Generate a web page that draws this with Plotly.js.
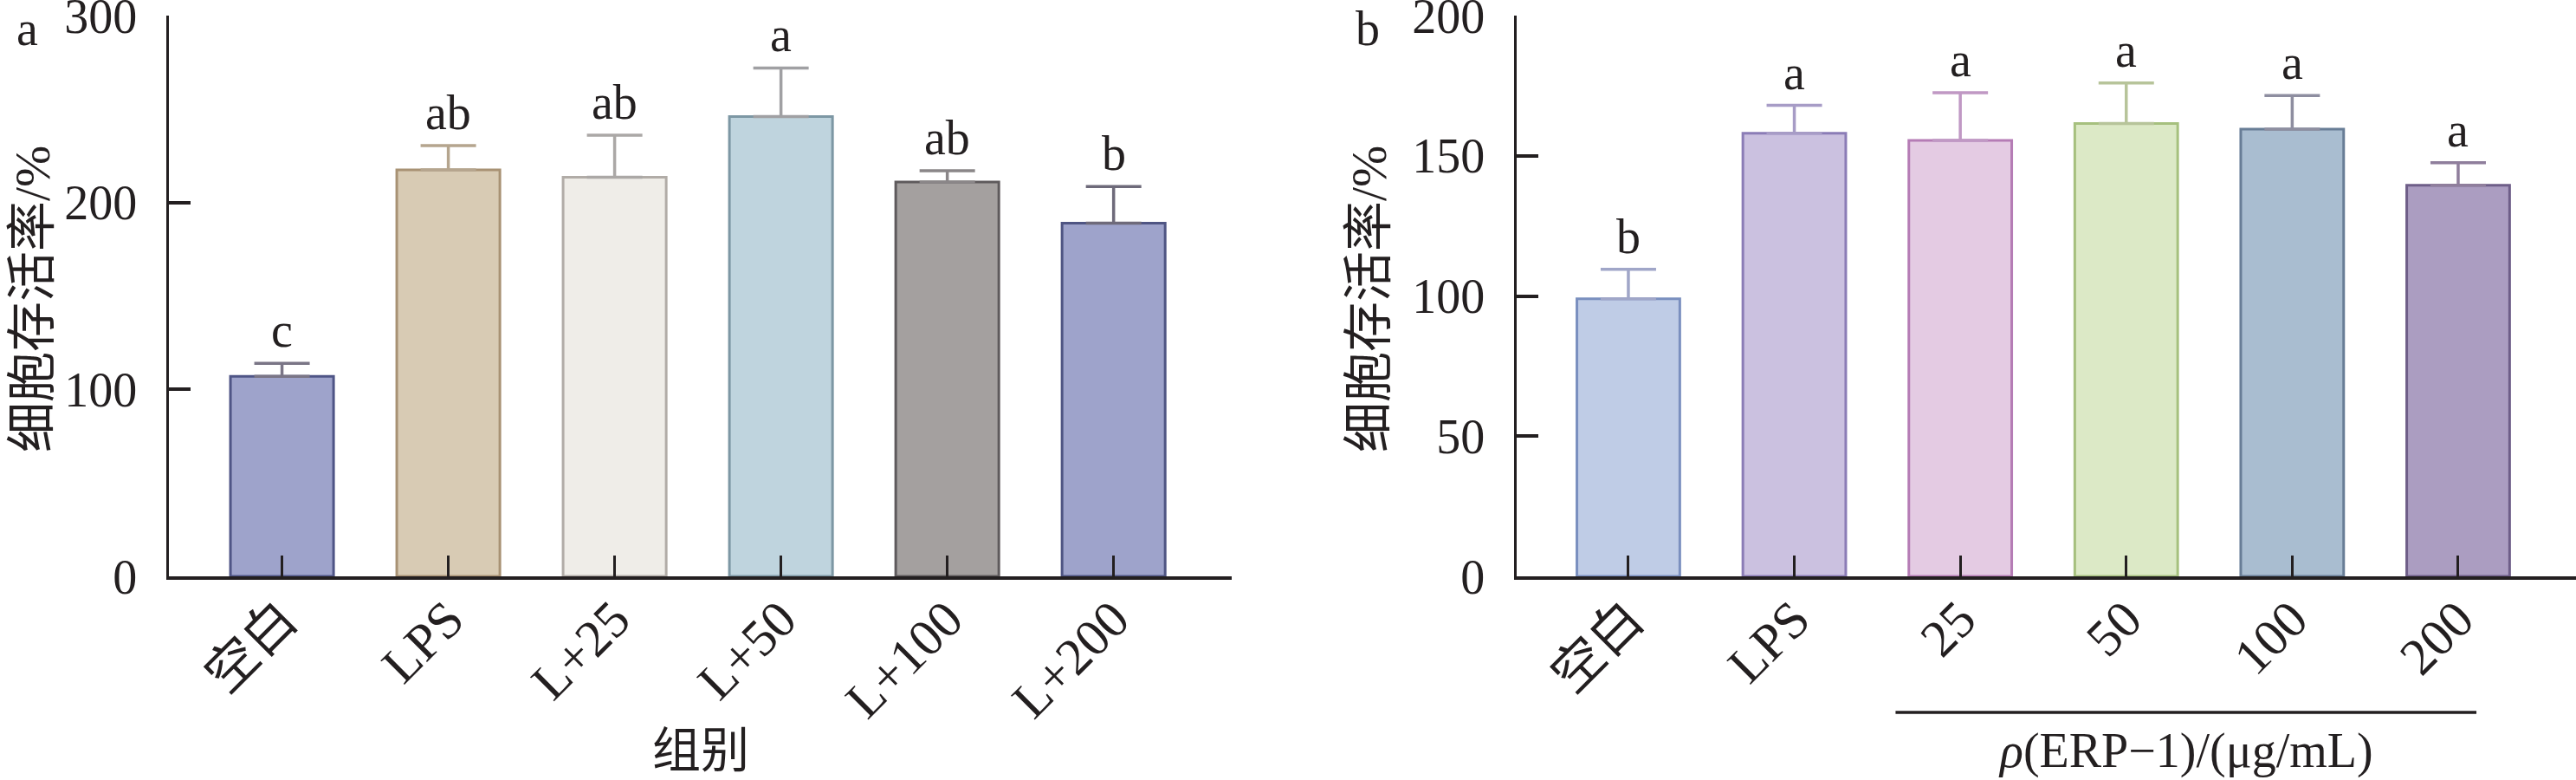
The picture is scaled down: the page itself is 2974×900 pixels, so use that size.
<!DOCTYPE html>
<html>
<head>
<meta charset="utf-8">
<script src="https://cdn.plot.ly/plotly-3.0.1.min.js"></script>
<style>html,body{margin:0;padding:0;background:#fff;}</style>
</head>
<body>
<div id="myDiv" style="width:2974px;height:900px;"></div>
<script>
// panel a: cell viability by group
var groupsA = ['空白', 'LPS', 'L+25', 'L+50', 'L+100', 'L+200'];
var meanA = [107, 217.5, 213.5, 246, 211, 189];
var errA = [7, 13, 22.5, 26, 6, 19.5];
var letterA = ['c', 'ab', 'ab', 'a', 'ab', 'b'];

// panel b: cell viability by ERP-1 concentration
var groupsB = ['空白', 'LPS', '25', '50', '100', '200'];
var meanB = [99, 158, 155.5, 161.5, 159.5, 139.5];
var errB = [10.5, 10, 17, 14.5, 12, 8];
var letterB = ['b', 'a', 'a', 'a', 'a', 'a'];

// bar colours (fill / outline / error bar)
var fillA = ['#9ea3cb', '#d8cbb4', '#efede8', '#bfd4de', '#a4a09f', '#9ea3cb'];
var edgeA = ['#4f5586', '#a89274', '#b1aca7', '#7d97a4', '#5e5a5c', '#4f5583'];
var ebarA = ['#7a7586', '#b5a58e', '#aba8a6', '#a0a0a3', '#8a8688', '#6e6a7a'];
var fillB = ['#bfcce6', '#cbc1e0', '#e4cbe3', '#dce9c6', '#a9bdd0', '#ab9dc1'];
var edgeB = ['#7a8fbf', '#8b7cb6', '#b57cb5', '#a6c07e', '#687d96', '#6e5e88'];
var ebarB = ['#a0a6c8', '#a79cc6', '#c098c4', '#b7c49a', '#8e8ea0', '#8f7e9c'];

var FONT = 'Liberation Serif, "Noto Sans CJK SC", serif';
var INK = '#231f20';

function makeBars(groups, means, errs, fills, edges, ebars, xa, ya) {
    return groups.map(function (g, i) {
        return {
            type: 'bar',
            x: [g],
            y: [means[i]],
            xaxis: xa,
            yaxis: ya,
            width: 0.62,
            marker: {color: fills[i], line: {color: edges[i], width: 3}},
            error_y: {
                type: 'data', symmetric: false,
                array: [errs[i]], arrayminus: [0],
                color: ebars[i], thickness: 3.5, width: 32
            },
            showlegend: false,
            hoverinfo: 'x+y'
        };
    });
}

// significance letters, x given as category index
function makeLetters(means, errs, letters, xa, ya) {
    return letters.map(function (t, i) {
        return {
            x: i, y: means[i] + errs[i], xref: xa, yref: ya,
            text: t, showarrow: false,
            yanchor: 'bottom', yshift: 5,
            font: {family: FONT, size: 56, color: INK}
        };
    });
}

var data = makeBars(groupsA, meanA, errA, fillA, edgeA, ebarA, 'x', 'y')
    .concat(makeBars(groupsB, meanB, errB, fillB, edgeB, ebarB, 'x2', 'y2'));

function xAxis(domain, range, groups) {
    return {
        domain: domain, range: range, type: 'category',
        categoryorder: 'array', categoryarray: groups,
        showline: true, linewidth: 4, linecolor: INK,
        ticks: 'inside', ticklen: 24, tickwidth: 3, tickcolor: INK,
        tickangle: -45, ticklabelstandoff: -14,
        showgrid: false, zeroline: false, fixedrange: true,
        tickfont: {family: FONT, size: 60, color: INK}
    };
}

function yAxis(domain, range, dtick, anchor) {
    return {
        domain: domain, range: range, dtick: dtick, anchor: anchor,
        showline: true, linewidth: 3.5, linecolor: INK,
        ticks: 'inside', ticklen: 25, tickwidth: 4, tickcolor: INK,
        ticklabelstandoff: 22, ticklabeloverflow: 'allow',
        showgrid: false, zeroline: false, fixedrange: true,
        tickfont: {family: FONT, size: 56, color: INK}
    };
}

var W = 2974, H = 900;
var yDom = [1 - 665 / H, 1 - 18 / H];

function paperText(px, py, text, opts) {
    var a = {
        x: px / W, y: 1 - py / H, xref: 'paper', yref: 'paper', text: text,
        showarrow: false, xanchor: 'center', yanchor: 'middle',
        font: {family: FONT, size: 56, color: INK}
    };
    for (var k in opts) a[k] = opts[k];
    return a;
}

var annotations = makeLetters(meanA, errA, letterA, 'x', 'y')
    .concat(makeLetters(meanB, errB, letterB, 'x2', 'y2'))
    .concat([
        // panel tags
        paperText(31, 0, 'a', {yanchor: 'top'}),
        paperText(1579, 0, 'b', {yanchor: 'top'}),
        // y titles
        paperText(37, 345, '细胞存活率/%', {textangle: -90, font: {family: FONT, size: 58, color: INK}}),
        paperText(1580, 345, '细胞存活率/%', {textangle: -90, font: {family: FONT, size: 58, color: INK}}),
        // x titles
        paperText(809, 866, '组别'),
        {x: 3.36, y: 1 - 866 / H, xref: 'x2', yref: 'paper', text: '<i>ρ</i>(ERP−1)/(μg/mL)',
         showarrow: false, xanchor: 'center', yanchor: 'middle', font: {family: FONT, size: 56, color: INK}}
    ]);

var layout = {
    width: W, height: H,
    margin: {l: 0, r: 0, t: 0, b: 0},
    paper_bgcolor: '#ffffff', plot_bgcolor: 'rgba(0,0,0,0)',
    barmode: 'overlay',
    showlegend: false,
    font: {family: FONT, size: 56, color: INK},
    xaxis: xAxis([195 / W, 1422 / W], [-0.68, 5.71], groupsA),
    yaxis: yAxis(yDom, [0, 300], 100, 'x'),
    xaxis2: xAxis([1751 / W, 1], [-0.673, 5.71], groupsB),
    yaxis2: yAxis(yDom, [0, 200], 50, 'x2'),
    annotations: annotations,
    // bracket under the ERP-1 doses
    shapes: [{
        type: 'line', xref: 'x2', yref: 'paper',
        x0: groupsB.indexOf('25') - 0.39, x1: groupsB.indexOf('200') + 0.11,
        y0: 1 - 822 / H, y1: 1 - 822 / H,
        line: {color: INK, width: 3.5}
    }]
};

Plotly.newPlot('myDiv', data, layout, {displayModeBar: false, staticPlot: true});
</script>
</body>
</html>
